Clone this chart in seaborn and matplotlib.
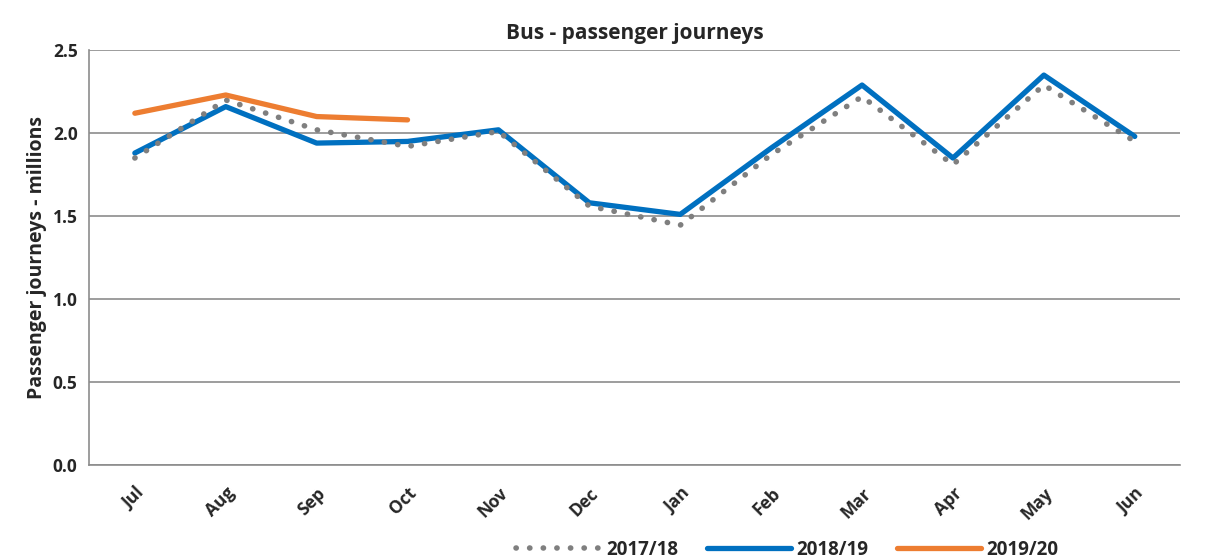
import matplotlib
matplotlib.use("Agg")
import matplotlib.pyplot as plt
import seaborn as sns
import pandas as pd
import numpy as np

months = ["Jul", "Aug", "Sep", "Oct", "Nov", "Dec", "Jan", "Feb", "Mar", "Apr", "May", "Jun"]
y2017 = [1.85, 2.20, 2.02, 1.92, 2.01, 1.56, 1.445, 1.87, 2.22, 1.81, 2.29, 1.95]
y2018 = [1.88, 2.16, 1.94, 1.95, 2.02, 1.58, 1.51, 1.91, 2.29, 1.85, 2.35, 1.98]
y2019 = [2.12, 2.23, 2.10, 2.08]
series_names = ["2017/18", "2018/19", "2019/20"]

rows = []
for name, vals in zip(series_names, [y2017, y2018, y2019]):
    for i, v in enumerate(vals):
        rows.append({"month": months[i], "pos": i, "value": v, "series": name})
df = pd.DataFrame(rows)

sns.set_theme(style="white")
plt.rcParams['font.family'] = ['Open Sans', 'DejaVu Sans']

fig, ax = plt.subplots(figsize=(12.08, 5.58), dpi=100)
fig.subplots_adjust(left=0.074, right=0.977, top=0.91, bottom=0.167)

palette = {"2017/18": "#7F7F7F", "2018/19": "#0070C0", "2019/20": "#ED7D31"}
sns.lineplot(data=df[df.series == "2018/19"], x="pos", y="value", color=palette["2018/19"],
             linewidth=3.8, ax=ax, label="2018/19", zorder=3)
sns.lineplot(data=df[df.series == "2017/18"], x="pos", y="value", color=palette["2017/18"],
             linewidth=4, ax=ax, label="2017/18", zorder=4)
sns.lineplot(data=df[df.series == "2019/20"], x="pos", y="value", color=palette["2019/20"],
             linewidth=3.8, ax=ax, label="2019/20", zorder=5)
for line in ax.lines:
    if line.get_label() == "2017/18":
        line.set_linestyle((0, (0.05, 2.4)))
        line.set_dash_capstyle("round")
    else:
        line.set_solid_capstyle("round")

ax.set_xlim(-0.5, 11.5)
ax.set_ylim(0, 2.5)
ax.set_yticks(np.arange(0, 2.51, 0.5))
ax.set_yticklabels([f"{v:.1f}" for v in np.arange(0, 2.51, 0.5)], fontsize=12.5, fontweight="bold")
ax.set_xticks(range(12))
ax.set_xticklabels(months, rotation=45, fontsize=12.5, fontweight="bold",
                   ha="right", rotation_mode="anchor")
ax.set_xticks(np.arange(-0.5, 12, 1), minor=True)
ax.tick_params(axis="x", which="major", length=0, pad=14)
ax.tick_params(axis="x", which="minor", length=6, color="#8c8c8c", width=1.2, direction="out")
ax.tick_params(axis="y", which="major", length=5, color="#8c8c8c", width=1.2, direction="out")
for lbl in ax.get_xticklabels():
    lbl.set_x(lbl.get_position()[0])
ax.grid(axis="y", color="#8c8c8c", linewidth=1.2)
ax.set_axisbelow(True)
for s in ["top", "right"]:
    ax.spines[s].set_visible(False)
for s in ["left", "bottom"]:
    ax.spines[s].set_color("#8c8c8c")
    ax.spines[s].set_linewidth(1.2)

ax.set_xlabel("")
ax.set_ylabel("Passenger journeys - millions", fontsize=14, fontweight="bold")
ax.set_title("Bus - passenger journeys", fontsize=15, fontweight="bold", pad=8)

handles, labels = ax.get_legend_handles_labels()
order = [labels.index(n) for n in series_names]
leg = ax.legend([handles[i] for i in order], [labels[i] for i in order],
                loc="center", bbox_to_anchor=(0.64, -0.205), ncol=3, frameon=False,
                handlelength=4.5, columnspacing=1.5, handletextpad=0.3,
                prop={"weight": "bold", "size": 13.5})

fig.savefig("out.png", dpi=100)
